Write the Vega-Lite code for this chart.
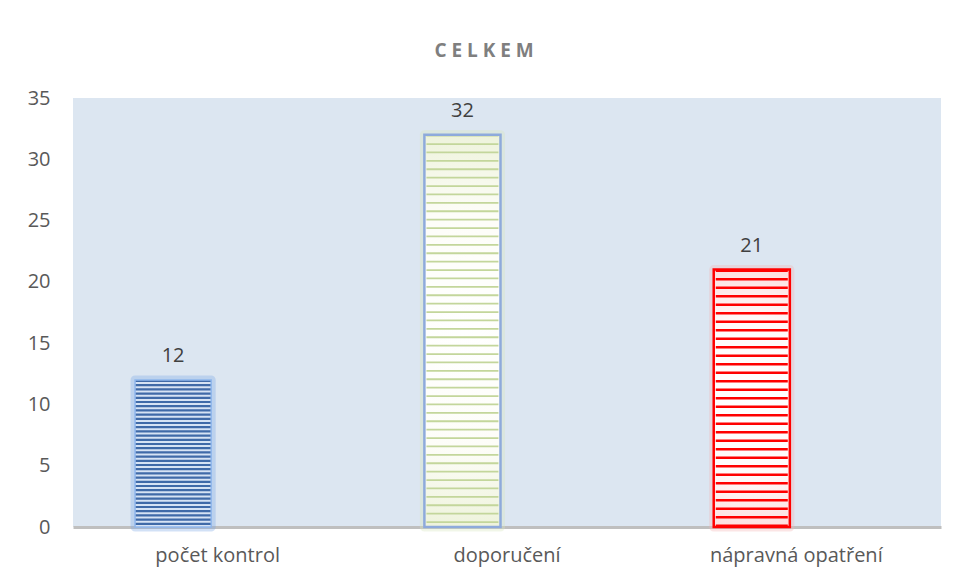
{
  "$schema": "https://vega.github.io/schema/vega-lite/v6.json",
  "width": 868,
  "height": 429,
  "autosize": {"type": "none"},
  "padding": {"left": 73, "top": 98, "right": 17, "bottom": 53},
  "background": "#ffffff",
  "title": {
    "text": "C E L K E M",
    "font": "Open Sans",
    "fontSize": 19,
    "fontWeight": "bold",
    "color": "#7f7f7f",
    "anchor": "middle",
    "frame": "bounds",
    "baseline": "alphabetic",
    "offset": 12
  },
  "data": {
    "values": [
      {"kategorie": "počet kontrol", "rada": "A", "pocet": 12},
      {"kategorie": "doporučení", "rada": "A", "pocet": 32},
      {"kategorie": "nápravná opatření", "rada": "A", "pocet": 21}
    ]
  },
  "encoding": {
    "x": {
      "field": "kategorie",
      "type": "nominal",
      "sort": null,
      "scale": {"paddingInner": 0.429, "paddingOuter": 0.2145},
      "axis": {
        "title": null,
        "labelAngle": 0,
        "ticks": false,
        "domain": true,
        "domainColor": "#bfbfbf",
        "domainWidth": 3,
        "labelPadding": 18,
        "labelFont": "Open Sans",
        "labelFontSize": 20,
        "labelColor": "#595959"
      }
    },
    "xOffset": {
      "field": "rada",
      "type": "nominal",
      "scale": {"domain": ["A", "B"], "paddingInner": 0.146, "paddingOuter": 0}
    }
  },
  "layer": [
    {
      "mark": {"type": "bar", "fill": "transparent", "strokeWidth": 9, "strokeOpacity": 0.35, "strokeJoin": "round"},
      "encoding": {
        "y": {
          "field": "pocet",
          "type": "quantitative",
          "scale": {"domain": [0, 35], "nice": false},
          "axis": {
            "title": null,
            "values": [0, 5, 10, 15, 20, 25, 30, 35],
            "grid": false,
            "ticks": false,
            "domain": false,
            "labelPadding": 23,
            "labelFont": "Open Sans",
            "labelFontSize": 20,
            "labelColor": "#595959"
          }
        },
        "stroke": {
          "condition": [
            {"test": "datum.kategorie === 'počet kontrol'", "value": "#7faae6"},
            {"test": "datum.kategorie === 'doporučení'", "value": "#d7e4bd"}
          ],
          "value": "#f3b4b4"
        }
      }
    },
    {
      "mark": {"type": "bar", "strokeWidth": 0},
      "encoding": {
        "y": {"field": "pocet", "type": "quantitative"},
        "fill": {
          "condition": [
            {"test": "datum.kategorie === 'počet kontrol'", "value": "#d6e3f4"},
            {"test": "datum.kategorie === 'doporučení'", "value": {"gradient": "radial", "stops": [{"offset": 0, "color": "#ffffff"}, {"offset": 0.6, "color": "#fdfdf8"}, {"offset": 1, "color": "#eef3dc"}]}}
          ],
          "value": {"gradient": "radial", "stops": [{"offset": 0, "color": "#ffffff"}, {"offset": 0.6, "color": "#fffafa"}, {"offset": 1, "color": "#fde0e0"}]}
        }
      }
    },
    {
      "mark": {"type": "rule", "strokeCap": "butt"},
      "encoding": {
        "y": {"field": "pocet", "type": "quantitative"},
        "y2": {"datum": 0},
        "stroke": {
          "condition": [
            {"test": "datum.kategorie === 'počet kontrol'", "value": "#3f6aa8"},
            {"test": "datum.kategorie === 'doporučení'", "value": "#c3d69b"}
          ],
          "value": "#ff0000"
        },
        "strokeWidth": {
          "condition": [
            {"test": "datum.kategorie === 'počet kontrol'", "value": 76}
          ],
          "value": 72
        },
        "strokeDash": {
          "condition": [
            {"test": "datum.kategorie === 'počet kontrol'", "value": [2.2, 2]},
            {"test": "datum.kategorie === 'doporučení'", "value": [1.8, 6.6]}
          ],
          "value": [2.4, 6.1]
        }
      }
    },
    {
      "mark": {"type": "bar", "fill": "transparent"},
      "encoding": {
        "y": {"field": "pocet", "type": "quantitative"},
        "stroke": {
          "condition": [
            {"test": "datum.kategorie === 'počet kontrol'", "value": "#8fb6ec"},
            {"test": "datum.kategorie === 'doporučení'", "value": "#8eaadb"}
          ],
          "value": "#ff0000"
        },
        "strokeWidth": {
          "condition": [
            {"test": "datum.kategorie === 'počet kontrol'", "value": 1.5}
          ],
          "value": 2.5
        }
      }
    },
    {
      "mark": {"type": "text", "font": "Open Sans", "fontSize": 20, "color": "#404040", "baseline": "alphabetic", "dy": -18},
      "encoding": {
        "y": {"field": "pocet", "type": "quantitative"},
        "text": {"field": "pocet", "type": "quantitative"}
      }
    }
  ],
  "config": {
    "view": {"fill": "#dce6f1", "stroke": null}
  }
}
